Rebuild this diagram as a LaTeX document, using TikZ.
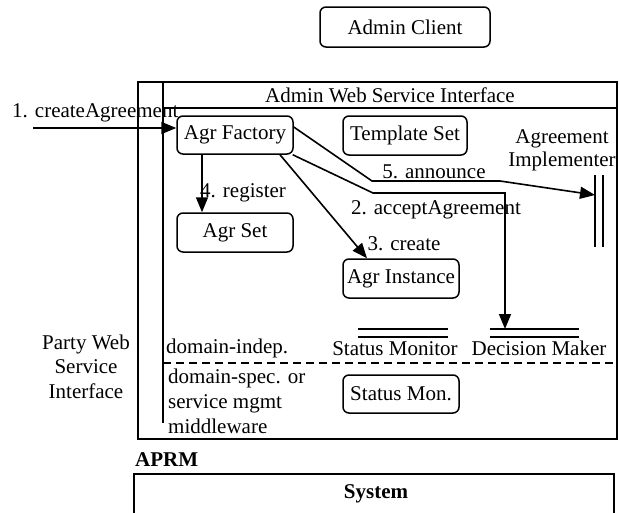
\documentclass[tikz,border=0pt]{standalone}
\usepackage{fontspec}
\setmainfont{Liberation Serif}
\usetikzlibrary{arrows.meta}
\begin{document}
\begin{tikzpicture}[x=1pt,y=-1pt,
  every node/.style={font=\fontsize{21}{24.5}\selectfont, inner sep=0pt},
  rbox/.style={draw, line width=1.5pt, rounded corners=6pt, minimum width=#1, minimum height=38pt},
  frame/.style={draw, line width=1.5pt},
  conn/.style={line width=1.6pt, -{Triangle[length=15pt,width=12pt]}},
  plain/.style={line width=1.6pt},
  lbl/.style={anchor=base},
  lbll/.style={anchor=base west}]
\useasboundingbox (0,0) rectangle (619,512);
% frames
\draw[frame] (138,82) rectangle (617,439);
\draw[frame] (163,82) -- (163,423);
\draw[frame] (163,108) -- (617,108);
\draw[line width=1.4pt, dash pattern=on 8pt off 5pt] (163,363) -- (617,363);
\draw[frame] (134,474) rectangle (614,530);
% boxes
\node[rbox=170pt, minimum height=40pt] (ac) at (405,27) {Admin Client};
\node[rbox=116pt] (af) at (235,135) {Agr Factory};
\node[rbox=116pt, minimum height=39pt] (as) at (235,232.5) {Agr Set};
\node[rbox=124pt, minimum height=39pt] (ts) at (405,135.5) {Template Set};
\node[rbox=116pt, minimum height=39pt] (ai) at (401,278.5) {Agr Instance};
\node[rbox=116pt] (sm) at (401,394) {Status Mon.};
% texts
\node[lbl] (hdr) at (390,102) {Admin Web Service Interface};
\node[lbl] (aiA) at (562,143) {Agreement};
\node[lbl] (aiB) at (562,166) {Implementer};
\node[lbl] (smt) at (395,355) {Status Monitor};
\node[lbl] (dmt) at (539,355) {Decision Maker};
\node[lbl] (p1) at (86,349) {Party Web};
\node[lbl] (p2) at (86,373) {Service};
\node[lbl] (p3) at (86,398) {Interface};
\node[lbll] (d1) at (166,353) {domain-indep.};
\node[lbll] (d2) at (168,383) {domain-spec. or};
\node[lbll] (d3) at (168,408) {service mgmt};
\node[lbll] (d4) at (168,433) {middleware};
\node[lbll] (aprm) at (135,466) {\bfseries APRM};
\node[lbl] (sys) at (376,498) {\bfseries System};
% double lines
\coordinate (smA) at (358,329); \coordinate (smB) at (448,329);
\coordinate (smC) at (358,337); \coordinate (smD) at (448,337);
\coordinate (dmA) at (490,329); \coordinate (dmB) at (579,329);
\coordinate (dmC) at (490,337); \coordinate (dmD) at (579,337);
\draw[plain] (smA) -- (smB); \draw[plain] (smC) -- (smD);
\draw[plain] (dmA) -- (dmB); \draw[plain] (dmC) -- (dmD);
\coordinate (imA) at (595,175); \coordinate (imB) at (595,247);
\coordinate (imC) at (603,175); \coordinate (imD) at (603,247);
\draw[plain] (imA) -- (imB); \draw[plain] (imC) -- (imD);
% connectors
\coordinate (start) at (33,128);
\draw[conn] (start) -- (af.west |- start);
\node[lbll] (l1) at (12,117) {1. createAgreement};
\draw[conn] ([xshift=-33pt]af.south) -- ([xshift=-33pt]as.north);
\node[lbll] (l4) at (200,197) {4. register};
\draw[conn] ([yshift=8pt]af.east) -- (372,181) -- (500,181) -- (595,195);
\node[lbl] (l5) at (434,178) {5. announce};
\draw[conn] ([xshift=-1pt]af.south east) -- (373,193) -- (505,193) -- (dmA -| 505,0);
\node[lbl] (l2) at (436,214) {2. acceptAgreement};
\draw[conn] ([xshift=45pt]af.south) -- ([xshift=-34pt]ai.north);
\node[lbl] (l3) at (404,250) {3. create};
\end{tikzpicture}
\end{document}
